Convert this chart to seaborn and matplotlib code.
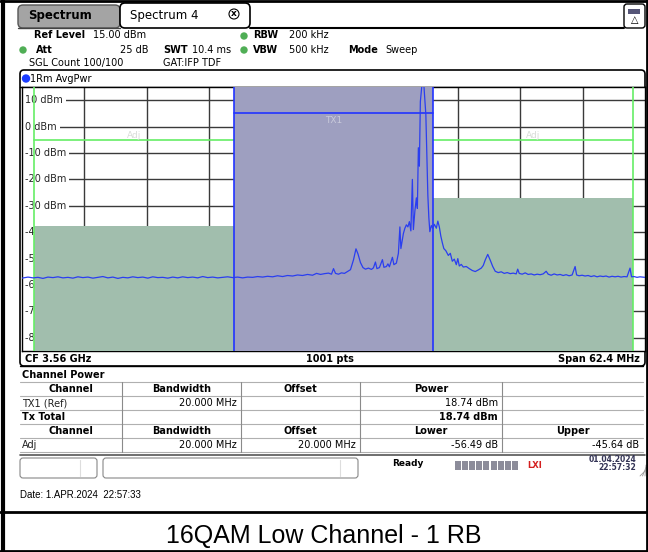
import matplotlib
matplotlib.use("Agg")
import matplotlib.pyplot as plt
from matplotlib.patches import Rectangle, FancyBboxPatch, Circle
import pandas as pd
import seaborn as sns

# trace: offset from CF (MHz) and level (dBm)
freq_mhz = [
    -31.2, -30.6, -30.1, -29.6, -29.1, -28.6, -28.1, -27.6, -27.1, -26.6,
    -26.1, -25.6, -25.1, -24.6, -24.1, -23.6, -23.1, -22.6, -22.1, -21.6,
    -21.1, -20.6, -20.1, -19.6, -19.1, -18.6, -18.1, -17.6, -17.1, -16.6,
    -16.1, -15.6, -15.1, -14.6, -14.1, -13.6, -13.1, -12.6, -12.1, -11.6,
    -11.1, -10.6, -10.1, -9.6, -9.1, -8.6, -8.1, -7.6, -7.1, -6.6,
    -6.1, -5.6, -5.1, -4.6, -4.1, -3.6, -3.1, -2.6, -2.1, -1.7,
    -1.3, -0.9, -0.5, -0.2, 0.0, 0.2, 0.5, 0.8, 1.1, 1.4,
    1.7, 2.0, 2.25, 2.45, 2.7, 2.95, 3.2, 3.5, 3.8, 4.0,
    4.2, 4.35, 4.6, 4.9, 5.05, 5.3, 5.45, 5.6, 5.9, 6.05,
    6.3, 6.5, 6.65, 6.75, 7.0, 7.15, 7.3, 7.45, 7.6, 7.75,
    7.9, 8.0, 8.15, 8.3, 8.4, 8.5, 8.6, 8.7, 8.85, 8.95,
    9.05, 9.15, 9.25, 9.35, 9.45, 9.55, 9.65, 9.8, 9.95, 10.1,
    10.3, 10.45, 10.6, 10.75, 10.9, 11.05, 11.25, 11.5, 11.7, 11.9,
    12.1, 12.3, 12.45, 12.6, 12.8, 13.0, 13.3, 13.6, 13.9, 14.2,
    14.5, 14.8, 15.0, 15.2, 15.45, 15.7, 15.95, 16.2, 16.5, 16.8,
    17.1, 17.4, 17.7, 18.0, 18.3, 18.45, 18.6, 18.9, 19.2, 19.5,
    19.8, 20.1, 20.4, 20.7, 21.0, 21.3, 21.5, 21.8, 22.1, 22.4,
    22.7, 23.0, 23.3, 23.6, 23.9, 24.2, 24.35, 24.6, 24.9, 25.2,
    25.5, 25.8, 26.1, 26.4, 26.7, 27.0, 27.3, 27.6, 27.9, 28.2,
    28.5, 28.8, 29.1, 29.4, 29.7, 29.85, 30.1, 30.4, 30.7, 31.2,
]
level_dbm = [
    -57.4, -57.0, -57.3, -57.1, -57.5, -57.0, -57.2, -56.9, -57.3, -57.1,
    -57.4, -56.9, -57.2, -57.0, -57.4, -57.1, -56.8, -57.3, -57.0, -57.5,
    -57.1, -57.3, -56.9, -57.2, -57.0, -57.4, -56.9, -57.2, -57.1, -57.4,
    -57.0, -57.3, -56.9, -57.2, -57.0, -57.3, -56.8, -57.2, -57.0, -57.3,
    -57.1, -56.9, -57.2, -57.0, -57.3, -57.0, -57.1, -56.8, -57.0, -56.7,
    -56.9, -56.5, -56.8, -56.4, -56.6, -56.2, -56.4, -56.0, -56.3, -55.6,
    -56.0, -55.7, -55.5, -55.9, -53.8, -55.6, -55.9, -55.4, -55.6, -54.9,
    -54.2, -50.5, -46.3, -48.2, -51.5, -53.4, -54.0, -53.6, -54.1, -53.5,
    -51.3, -53.8, -53.4, -50.4, -53.3, -53.0, -52.0, -53.1, -49.5, -52.3,
    -51.7, -48.0, -38.0, -46.2, -40.5, -38.5, -37.2, -38.0, -36.0, -39.5,
    -20.0, -39.0, -32.0, -27.0, -31.0, -8.0, -15.0, 9.5, 15.5, 16.0,
    15.8, 10.0, 4.5, -11.5, -26.0, -34.5, -39.8, -37.5, -38.5, -37.0,
    -38.5, -35.8, -38.0, -41.5, -44.0, -46.2, -47.0, -48.8, -48.0, -51.0,
    -50.2, -52.3, -50.0, -52.8, -52.2, -53.2, -53.0, -53.8, -54.5, -54.9,
    -54.3, -53.6, -52.6, -50.5, -48.4, -50.6, -53.0, -54.8, -55.3, -55.0,
    -55.6, -55.3, -55.7, -55.5, -55.8, -54.0, -55.6, -55.9, -55.4, -56.0,
    -55.8, -56.2, -55.9, -56.1, -55.8, -54.8, -55.9, -56.3, -55.8, -56.2,
    -56.0, -56.4, -56.1, -56.5, -56.2, -53.0, -56.2, -56.5, -56.3, -56.6,
    -56.4, -56.8, -56.5, -56.9, -56.6, -56.8, -56.6, -57.0, -56.7, -56.9,
    -56.7, -57.0, -56.8, -56.9, -53.6, -56.9, -56.8, -57.1, -56.9, -57.1,
]

y_ticks_dbm = [10, 0, -10, -20, -30, -40, -50, -60, -70, -80]
grid_freq_mhz = [-24.96, -18.72, -12.48, -6.24, 0.0, 6.24, 12.48, 18.72, 24.96]
span_mhz = 62.4
ref_level_dbm = 15.0
bottom_dbm = -85.0

tx_band = [-10.0, 10.0]
adj_low_band = [-30.0, -10.0]
adj_up_band = [10.0, 30.0]
tx_power_dbm = 18.74
adj_low_db = -56.49
adj_up_db = -45.64
tx_line_dbm = 5.0
adj_line_dbm = -5.0

# channel power table
col_edges = [20, 122, 241, 360, 502, 643]
hdr_row1 = ["Channel", "Bandwidth", "Offset", "Power", ""]
tx_row = ["TX1 (Ref)", "20.000 MHz", "", "18.74 dBm", ""]
total_row = ["Tx Total", "", "", "18.74 dBm", ""]
hdr_row2 = ["Channel", "Bandwidth", "Offset", "Lower", "Upper"]
adj_row = ["Adj", "20.000 MHz", "20.000 MHz", "-56.49 dB", "-45.64 dB"]

W, H = 648, 552
UI = "DejaVu Sans"
GREEN_FILL = "#a1bead"
BLUE_FILL = "#9e9fc0"
BLUE_LINE = "#2233ff"
GREEN_LINE = "#66ee66"
TRACE = "#2a3ef0"

sns.set_style("white")
plt.rcParams["font.family"] = ["DejaVu Sans"]

fig = plt.figure(figsize=(W / 100, H / 100), dpi=100)
bg = fig.add_axes([0, 0, 1, 1])
bg.set_xlim(0, W)
bg.set_ylim(H, 0)
bg.axis("off")


def txt(x, y, s, size=7, bold=False, ha="left", color="black", family=UI):
    bg.text(x, y, s, fontsize=size, fontweight="bold" if bold else "normal",
            ha=ha, va="center", color=color, family=family)


# tabs
bg.add_patch(FancyBboxPatch((18, 5), 102, 23, boxstyle="round,pad=0,rounding_size=5",
                            fc="#a4a4a4", ec="#555555", lw=1))
bg.add_patch(FancyBboxPatch((120, 3), 130, 25, boxstyle="round,pad=0,rounding_size=5",
                            fc="white", ec="black", lw=1.2))
bg.plot([250, 624], [27.5, 27.5], color="black", lw=1.5)
bg.plot([18, 120], [28, 28], color="#444444", lw=1)
txt(28, 16, "Spectrum", size=8.5, bold=True)
txt(130, 15, "Spectrum 4", size=8.5)
# close button of the tab
bg.add_patch(Circle((234, 14), 5, fc="white", ec="black", lw=0.8))
txt(234, 13.5, "x", size=6.5, bold=True, ha="center")
bg.add_patch(FancyBboxPatch((624, 4), 21, 24, boxstyle="round,pad=0,rounding_size=3",
                            fc="white", ec="black", lw=1))
bg.add_patch(Rectangle((628, 9), 12, 5, fc="#555577", ec="none"))
txt(634.5, 20, "△", size=7, ha="center")

# setting lines
txt(34, 35, "Ref Level", bold=True)
txt(93, 35, "15.00 dBm")
bg.add_patch(Circle((23, 50), 3, color="#4fae55"))
txt(36, 50, "Att", bold=True)
txt(148, 50, "25 dB", ha="right")
txt(163, 50, "SWT", bold=True)
txt(192, 50, "10.4 ms")
bg.add_patch(Circle((244, 36), 3, color="#4fae55"))
bg.add_patch(Circle((244, 50), 3, color="#4fae55"))
txt(253, 35, "RBW", bold=True)
txt(289, 35, "200 kHz")
txt(253, 50, "VBW", bold=True)
txt(289, 50, "500 kHz")
txt(348, 50, "Mode", bold=True)
txt(385, 50, "Sweep")
txt(29, 63, "SGL Count 100/100")
txt(163, 63, "GAT:IFP TDF")

# diagram panel
bg.add_patch(FancyBboxPatch((20, 70), 625, 296, boxstyle="round,pad=0,rounding_size=4",
                            fc="white", ec="black", lw=1.2))
bg.plot([20, 645], [87, 87], color="black", lw=1)
bg.add_patch(Circle((26, 78.5), 3.5, color="#1a3cff"))
txt(30, 78.5, "1Rm AvgPwr")
txt(25, 358.5, "CF 3.56 GHz", bold=True)
txt(330, 358.5, "1001 pts", bold=True, ha="center")
txt(640, 358.5, "Span 62.4 MHz", bold=True, ha="right")

# channel power table
bg.plot([20, 643], [366, 366], color="black", lw=1)
txt(22, 375, "Channel Power", bold=True)
row_y = [389, 403, 417, 431, 445]
rows = [hdr_row1, tx_row, total_row, hdr_row2, adj_row]
for y in [382, 396, 410, 424, 438, 452]:
    bg.plot([20, 643], [y, y], color="#b0b0b0", lw=0.8)
for x in col_edges[1:-1]:
    bg.plot([x, x], [382, 452], color="#8a8a8a", lw=0.8)
for r, (y, row) in enumerate(zip(row_y, rows)):
    header = r in (0, 3)
    for c, cell in enumerate(row):
        x0, x1 = col_edges[c], col_edges[c + 1]
        if header:
            txt((x0 + x1) / 2, y, cell, bold=True, ha="center")
        elif c == 0:
            txt(x0 + 2, y, cell, bold=(r == 2), color="#222222" if r != 2 else "black")
        else:
            txt(x1 - 4, y, cell, ha="right", bold=(r == 2))

# status bar
bg.plot([20, 645], [455, 455], color="#555555", lw=1.2)
for x0, x1 in [(20, 97), (103, 358)]:
    bg.add_patch(FancyBboxPatch((x0, 458), x1 - x0, 20, boxstyle="round,pad=0,rounding_size=3",
                                fc="white", ec="#888888", lw=0.8))
bg.plot([80, 80], [460, 476], color="#dddddd", lw=0.8)
bg.plot([340, 340], [460, 476], color="#dddddd", lw=0.8)
txt(392, 464, "Ready", size=6.5, bold=True)
for k in range(9):
    bg.add_patch(Rectangle((455 + k * 7.1, 461), 6, 9, fc="#8c8c9a", ec="none"))
txt(535, 465, "LXI", size=6, bold=True, color="#d42020", ha="center")
txt(636, 459, "01.04.2024", size=5.5, bold=True, ha="right", color="#333355")
txt(636, 467, "22:57:32", size=5.5, bold=True, ha="right", color="#333355")
for d in range(3):
    bg.plot([640 + d * 2.5, 646], [476, 470 - d * 2.5], color="#999999", lw=0.6)

txt(20, 495, "Date: 1.APR.2024  22:57:33", size=7, family="Liberation Sans")
txt(324, 536, "16QAM Low Channel - 1 RB", size=18, ha="center", family="Liberation Sans")

# outer frame
bg.plot([3, 3], [0, H], color="black", lw=3)
bg.plot([646.5, 646.5], [0, H], color="black", lw=2)
bg.plot([0, W], [1, 1], color="black", lw=2)
bg.plot([0, W], [551, 551], color="black", lw=2)
bg.plot([0, W], [512, 512], color="black", lw=2)

# spectrum diagram
ax = fig.add_axes([22 / W, 1 - 351 / H, 623 / W, 264 / H])
ax.set_xlim(-span_mhz / 2, span_mhz / 2)
ax.set_ylim(bottom_dbm, ref_level_dbm)
ax.set_facecolor("white")

for v in y_ticks_dbm:
    ax.axhline(v, color="#3a3a3a", lw=1, zorder=1)
    ax.text(-30.9, v, f"{v} dBm", fontsize=7, va="center", ha="left", zorder=2,
            bbox=dict(fc="white", ec="none", pad=2.2))
for f in grid_freq_mhz:
    ax.axvline(f, color="#3a3a3a", lw=1, zorder=1)

ax.fill_between(adj_low_band, bottom_dbm, tx_power_dbm + adj_low_db,
                color=GREEN_FILL, lw=0, zorder=3)
ax.fill_between(adj_up_band, bottom_dbm, tx_power_dbm + adj_up_db,
                color=GREEN_FILL, lw=0, zorder=3)
ax.fill_between(tx_band, bottom_dbm, ref_level_dbm + 5, color=BLUE_FILL, lw=0, zorder=3)

for f in [adj_low_band[0], adj_up_band[1]]:
    ax.axvline(f, color=GREEN_LINE, lw=1.2, zorder=4)
ax.plot(adj_low_band, [adj_line_dbm] * 2, color=GREEN_LINE, lw=1.2, zorder=4)
ax.plot(adj_up_band, [adj_line_dbm] * 2, color=GREEN_LINE, lw=1.2, zorder=4)
for f in tx_band:
    ax.axvline(f, color=BLUE_LINE, lw=1.2, zorder=4)
ax.plot(tx_band, [tx_line_dbm] * 2, color=BLUE_LINE, lw=1.2, zorder=4)

ax.text(sum(adj_low_band) / 2, adj_line_dbm + 1.8, "Adj", fontsize=6.5, color="#d8dcd8",
        ha="center", va="center", zorder=4)
ax.text(sum(adj_up_band) / 2, adj_line_dbm + 1.8, "Adj", fontsize=6.5, color="#d8dcd8",
        ha="center", va="center", zorder=4)
ax.text(0, tx_line_dbm - 2.8, "TX1", fontsize=6.5, color="#c9cadb",
        ha="center", va="center", zorder=4)

trace = pd.DataFrame({"freq": freq_mhz, "level": level_dbm})
sns.lineplot(data=trace, x="freq", y="level", ax=ax, color=TRACE, lw=0.9,
             estimator=None, zorder=5)

ax.set_xticks([])
ax.set_yticks([])
ax.set_xlabel("")
ax.set_ylabel("")
for s in ax.spines.values():
    s.set_color("black")
    s.set_linewidth(1)

fig.savefig("out.png", dpi=100)
